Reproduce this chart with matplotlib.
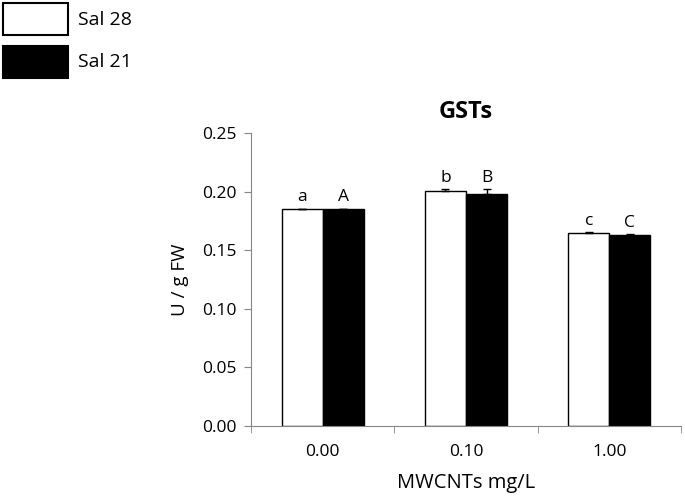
import numpy as np
import matplotlib.pyplot as plt
from matplotlib.patches import Rectangle

plt.rcParams['font.family'] = ['Open Sans', 'DejaVu Sans']

# data
cats = ['0.00', '0.10', '1.00']
sal28 = [0.185, 0.2008, 0.165]
sal28_err = [0.0004, 0.0012, 0.0005]
sal21 = [0.185, 0.1977, 0.163]
sal21_err = [0.0004, 0.0045, 0.0006]
lab28 = ['a', 'b', 'c']
lab21 = ['A', 'B', 'C']
series = ['Sal 28', 'Sal 21']

gray = '#868686'
W, H = 685, 497
fig = plt.figure(figsize=(W/100, H/100), dpi=100)
ax = fig.add_axes([251/W, 1 - 426/H, 430/W, 293/H])

x = np.arange(len(cats))
w = 0.287
ax.bar(x - w/2, sal28, w, color='white', edgecolor='black', linewidth=1,
       yerr=[np.zeros(3), sal28_err], capsize=3, error_kw=dict(elinewidth=1, capthick=1, ecolor='black'))
ax.bar(x + w/2, sal21, w, color='black', edgecolor='black', linewidth=1,
       yerr=[np.zeros(3), sal21_err], capsize=3, error_kw=dict(elinewidth=1, capthick=1, ecolor='black'))

for i in range(3):
    ax.text(x[i] - w/2, sal28[i] + sal28_err[i] + 0.003, lab28[i], ha='center', va='bottom', fontsize=12.5)
    ax.text(x[i] + w/2, sal21[i] + sal21_err[i] + 0.003, lab21[i], ha='center', va='bottom', fontsize=12.5)

ax.set_xlim(-0.5, 2.5)
ax.set_ylim(0, 0.25)
yt = np.arange(0, 0.251, 0.05)
ax.set_yticks(yt)
ax.set_yticklabels(['%.2f' % v for v in yt], fontsize=12.5)
ax.set_xticks(x)
ax.set_xticklabels(cats, fontsize=12.5)
ax.set_xticks([-0.5, 0.5, 1.5, 2.5], minor=True)
ax.tick_params(axis='x', which='major', length=0, pad=13)
ax.tick_params(axis='x', which='minor', length=5, color=gray, direction='out')
ax.tick_params(axis='y', length=5, color=gray, direction='out', pad=5)
for s in ['top', 'right']:
    ax.spines[s].set_visible(False)
ax.spines['left'].set_color(gray)
ax.spines['bottom'].set_color(gray)

ax.set_xlabel('MWCNTs mg/L', fontsize=14.5, labelpad=9)
ax.set_ylabel('U / g FW', fontsize=13.5, labelpad=10)
ax.set_title('GSTs', fontsize=17, fontweight='bold', pad=11)

# legend boxes, top left
fig.add_artist(Rectangle((3/W, 1 - 35/H), 65/W, 32/H, transform=fig.transFigure,
                         facecolor='white', edgecolor='black', linewidth=1.5))
fig.add_artist(Rectangle((3/W, 1 - 78/H), 65/W, 32/H, transform=fig.transFigure,
                         facecolor='black', edgecolor='black', linewidth=1.5))
fig.text(78/W, 1 - 20/H, series[0], fontsize=14, va='center', ha='left')
fig.text(78/W, 1 - 62/H, series[1], fontsize=14, va='center', ha='left')

fig.savefig('out.png', dpi=100)
